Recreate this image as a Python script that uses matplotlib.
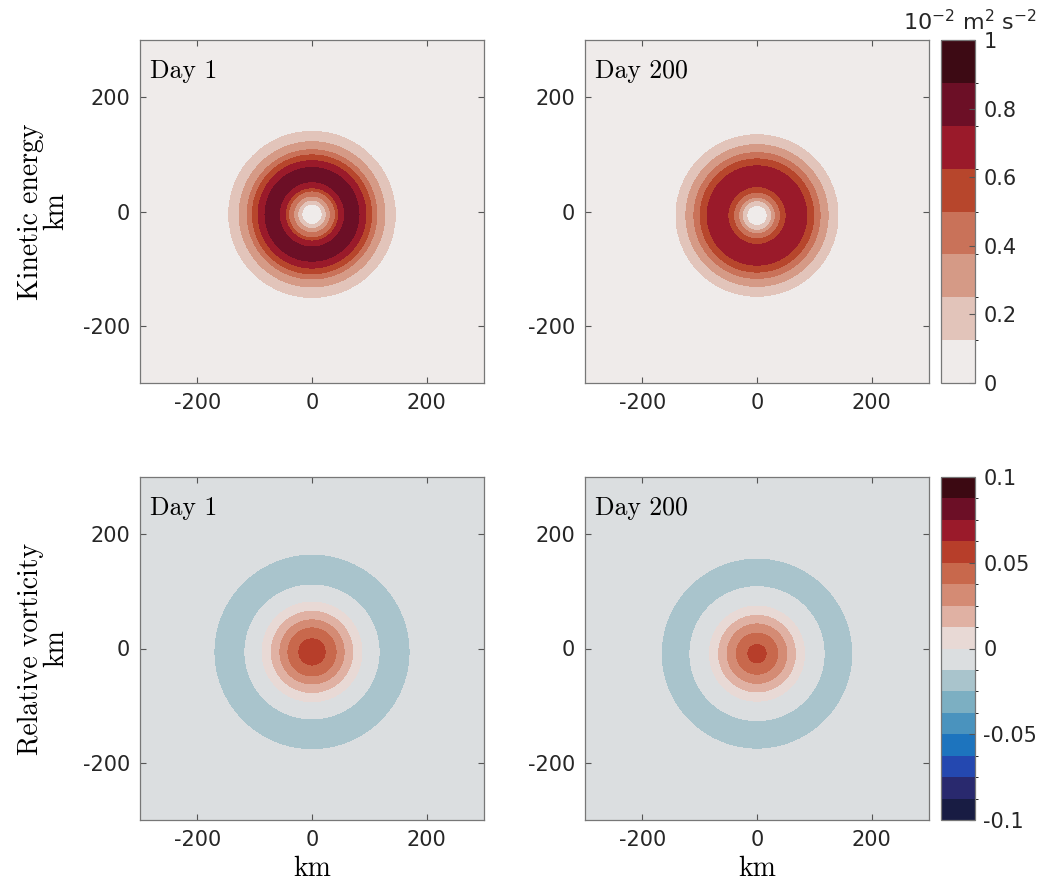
import numpy as np
import matplotlib
matplotlib.use("Agg")
import matplotlib.pyplot as plt
from matplotlib.colors import ListedColormap, BoundaryNorm

plt.rcParams['axes.unicode_minus'] = False

# radial profiles (r in km, value)
ke_r_day1 = [0, 18, 25, 32, 41, 46.5, 57, 70, 82, 94, 104, 113, 127, 145, 200, 300]
ke_v_day1 = [0, 0.125, 0.25, 0.375, 0.5, 0.625, 0.75, 0.84, 0.75, 0.625, 0.5, 0.375, 0.25, 0.125, 0.02, 0.0]
ke_r_day200 = [0, 18, 26, 32, 41, 50.5, 70, 87, 99, 110, 124, 141, 200, 300]
ke_v_day200 = [0, 0.125, 0.25, 0.375, 0.5, 0.625, 0.72, 0.625, 0.5, 0.375, 0.25, 0.125, 0.02, 0.0]

vort_r_day1 = [0, 23, 42, 56, 71, 87, 117, 140, 171, 220, 300]
vort_v_day1 = [0.058, 0.05, 0.0375, 0.025, 0.0125, 0.0, -0.0125, -0.019, -0.0125, -0.004, -0.001]
vort_r_day200 = [0, 16, 36, 52, 67, 83, 117, 140, 167, 220, 300]
vort_v_day200 = [0.056, 0.05, 0.0375, 0.025, 0.0125, 0.0, -0.0125, -0.018, -0.0125, -0.004, -0.001]

# eddy centre offsets (km), as seen in the picture
centre_y = [-5, -7, -6, -9]

day_labels = ["Day 1", "Day 200"]
row_labels = ["Kinetic energy\nkm", "Relative vorticity\nkm"]

ke_levels = np.linspace(0, 1, 9)
vort_levels = np.linspace(-0.1, 0.1, 17)

ke_colors = ["#efebea", "#e2c4ba", "#d59a86", "#c97259", "#b7462c", "#9a1a2a", "#6c0f26", "#3d0a14"]
vort_colors = ["#181c43", "#29296e", "#2448b0", "#1d74be", "#4a93be", "#7cafc2", "#a9c4cc", "#dbdee0",
               "#e8d9d5", "#e0b1a3", "#d48b74", "#c8684c", "#b73e2a", "#9a1a2a", "#6c0f26", "#3c0912"]

x = np.linspace(-300, 300, 601)
X, Y = np.meshgrid(x, x)

fig = plt.figure(figsize=(10.4, 8.86), dpi=100)

W, H = 344 / 1040, 343 / 886
lefts = [140 / 1040, 585 / 1040]
bottoms = [(886 - 383) / 886, (886 - 820) / 886]

fields = [
    [(ke_r_day1, ke_v_day1), (ke_r_day200, ke_v_day200)],
    [(vort_r_day1, vort_v_day1), (vort_r_day200, vort_v_day200)],
]
cmaps = [ListedColormap(ke_colors), ListedColormap(vort_colors)]
levels = [ke_levels, vort_levels]

serif = "cmr10"
tick_color = "#262626"

k = 0
for row in range(2):
    for col in range(2):
        ax = fig.add_axes([lefts[col], bottoms[row], W, H])
        rr, vv = fields[row][col]
        R = np.hypot(X, Y - centre_y[k])
        Z = np.interp(R, rr, vv)
        norm = BoundaryNorm(levels[row], cmaps[row].N)
        cs = ax.contourf(X, Y, Z, levels=levels[row], cmap=cmaps[row], norm=norm, extend="neither")
        k += 1
        ax.set_xlim(-300, 300)
        ax.set_ylim(-300, 300)
        ax.set_xticks([-200, 0, 200])
        ax.set_yticks([-200, 0, 200])
        ax.tick_params(direction="in", top=True, right=True, length=4, width=0.8,
                       labelsize=15, colors="#555555", labelcolor=tick_color, pad=7)
        for s in ax.spines.values():
            s.set_color("#777777")
            s.set_linewidth(0.9)
        ax.text(0.028, 0.945, day_labels[col], transform=ax.transAxes, ha="left", va="top",
                fontfamily=serif, fontsize=18.5, color="black")
        if col == 0:
            ax.set_ylabel(row_labels[row], fontfamily=serif, fontsize=20, labelpad=10,
                          linespacing=0.95)
        if row == 1:
            ax.set_xlabel("km", fontfamily=serif, fontsize=20, labelpad=4)

    cax = fig.add_axes([941 / 1040, bottoms[row], 34 / 1040, H])
    cb = fig.colorbar(cs, cax=cax)
    if row == 0:
        cb.set_ticks([0, 0.2, 0.4, 0.6, 0.8, 1])
        cb.set_ticklabels(["0", "0.2", "0.4", "0.6", "0.8", "1"])
    else:
        cb.set_ticks([-0.1, -0.05, 0, 0.05, 0.1])
        cb.set_ticklabels(["-0.1", "-0.05", "0", "0.05", "0.1"])
    cax.tick_params(direction="in", length=4, labelsize=15, colors="#555555",
                    labelcolor=tick_color, pad=6)
    cb.outline.set_edgecolor("#777777")
    cb.outline.set_linewidth(0.9)

fig.text(0.933, 0.976, r"10$^{-2}$ m$^{2}$ s$^{-2}$", ha="center", va="center",
         fontsize=16, color=tick_color)

fig.savefig("out.png", dpi=100)
